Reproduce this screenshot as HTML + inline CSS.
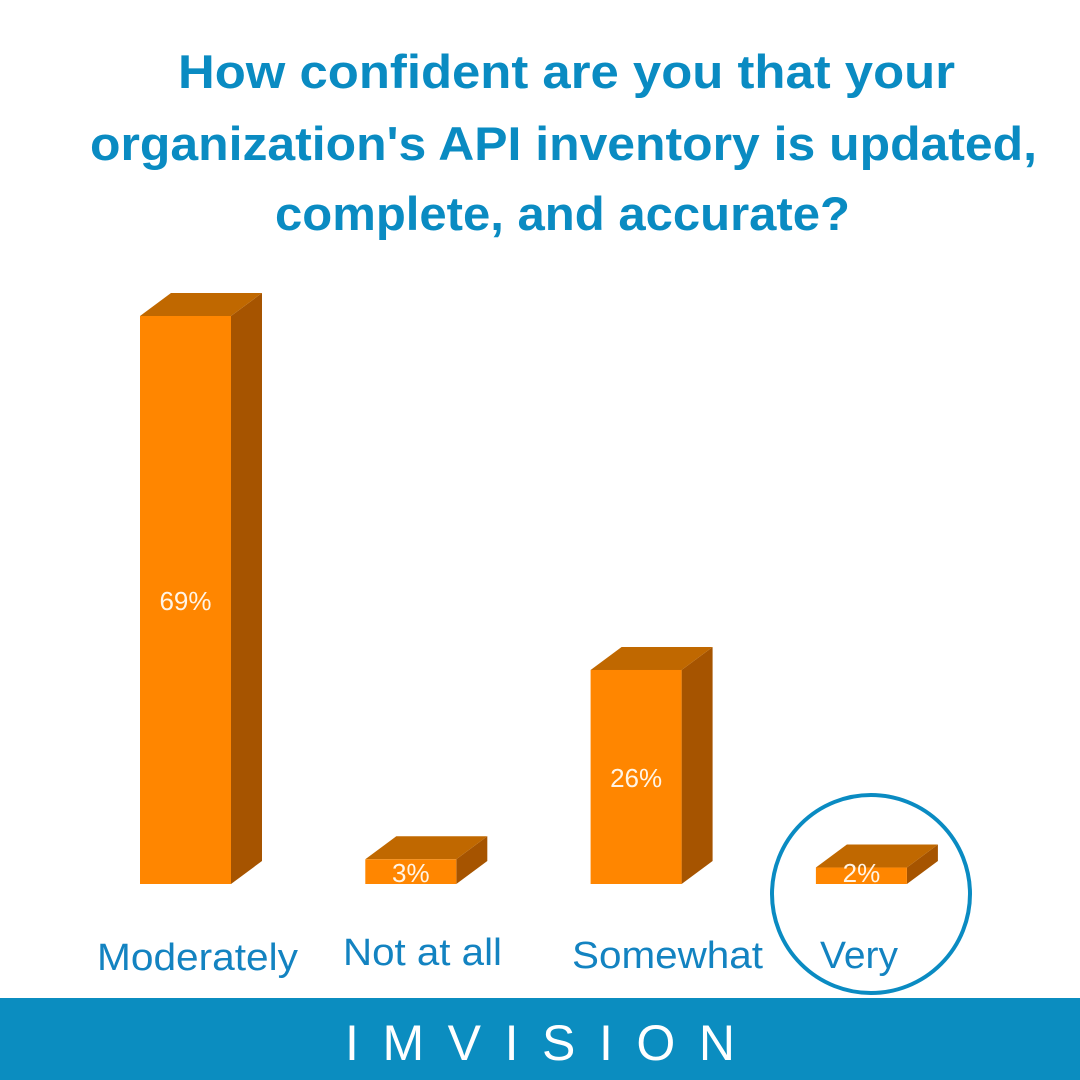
<!DOCTYPE html>
<html><head><meta charset="utf-8"><style>
html,body{margin:0;padding:0;background:#fff;width:1080px;height:1080px;overflow:hidden}
svg{display:block}
</style></head><body>
<svg width="1080" height="1080" viewBox="0 0 1080 1080">
<g font-family="Liberation Sans, sans-serif" font-weight="bold" font-size="47" fill="#0A8BC2" lengthAdjust="spacingAndGlyphs">
<text x="178" y="88" textLength="777" lengthAdjust="spacingAndGlyphs">How confident are you that your</text>
<text x="90" y="160" textLength="947" lengthAdjust="spacingAndGlyphs">organization's API inventory is updated,</text>
<text x="275" y="230" textLength="575" lengthAdjust="spacingAndGlyphs">complete, and accurate?</text>
</g>
<g id="bars"></g>
<circle cx="871" cy="894" r="99" fill="none" stroke="#0A8BC2" stroke-width="4"/>
<rect x="0" y="998" width="1080" height="82" fill="#0B8DC0"/>
<text x="345" y="1060" textLength="390" lengthAdjust="spacing" font-family="Liberation Sans, sans-serif" font-size="50" fill="#fff">IMVISION</text>
</svg>
<script>
const categories=["Moderately","Not at all","Somewhat","Very"];
const values=[69,3,26,2];
const valueLabels=["69%","3%","26%","2%"];
const NS="http://www.w3.org/2000/svg";
const base=884, pxPer=568/69;
function y(v){return base-v*pxPer;}
function x(i){return 140+i*225.3;}
const g=document.getElementById('bars');
const labelY=[970,965,968,968];
const labelX=[97,343,572,820];
const labelW=[201,159,191,78];
categories.forEach((c,i)=>{
  const x0=x(i), w=91, dx=31, dy=23, top=y(values[i]);
  const bar=document.createElementNS(NS,'g');
  
  
  const side=document.createElementNS(NS,'polygon');
  side.setAttribute('points',`${x0+w},${top} ${x0+w+dx},${top-dy} ${x0+w+dx},${base-dy} ${x0+w},${base}`);
  side.setAttribute('fill','#A65400');
  
  
  const tp=document.createElementNS(NS,'polygon');
  tp.setAttribute('points',`${x0},${top} ${x0+dx},${top-dy} ${x0+w+dx},${top-dy} ${x0+w},${top}`);
  tp.setAttribute('fill','#C06800');
  
  
  const fr=document.createElementNS(NS,'rect');
  fr.setAttribute('x',x0);fr.setAttribute('y',top);fr.setAttribute('width',w);fr.setAttribute('height',base-top);
  fr.setAttribute('fill','#FF8600');
  
  
  bar.appendChild(side);bar.appendChild(tp);bar.appendChild(fr);
  const vl=document.createElementNS(NS,'text');
  vl.setAttribute('x',x0+w/2);
  vl.setAttribute('y',(base-top)>40?(top+base)/2+10:base-2);
  vl.setAttribute('text-anchor','middle');
  vl.setAttribute('font-family','Liberation Sans, sans-serif');
  vl.setAttribute('font-size','26');
  vl.setAttribute('fill','#FFF4E6');
  vl.textContent=valueLabels[i];
  
  
  bar.appendChild(vl);
  g.appendChild(bar);
  const cl=document.createElementNS(NS,'text');
  cl.setAttribute('x',labelX[i]);
  cl.setAttribute('y',labelY[i]);
  cl.setAttribute('textLength',labelW[i]);
  cl.setAttribute('lengthAdjust','spacingAndGlyphs');
  cl.setAttribute('font-family','Liberation Sans, sans-serif');
  cl.setAttribute('font-size','38');
  cl.setAttribute('fill','#1383C1');
  cl.textContent=c;
  
  
  g.appendChild(cl);
});
</script>
</body></html>
